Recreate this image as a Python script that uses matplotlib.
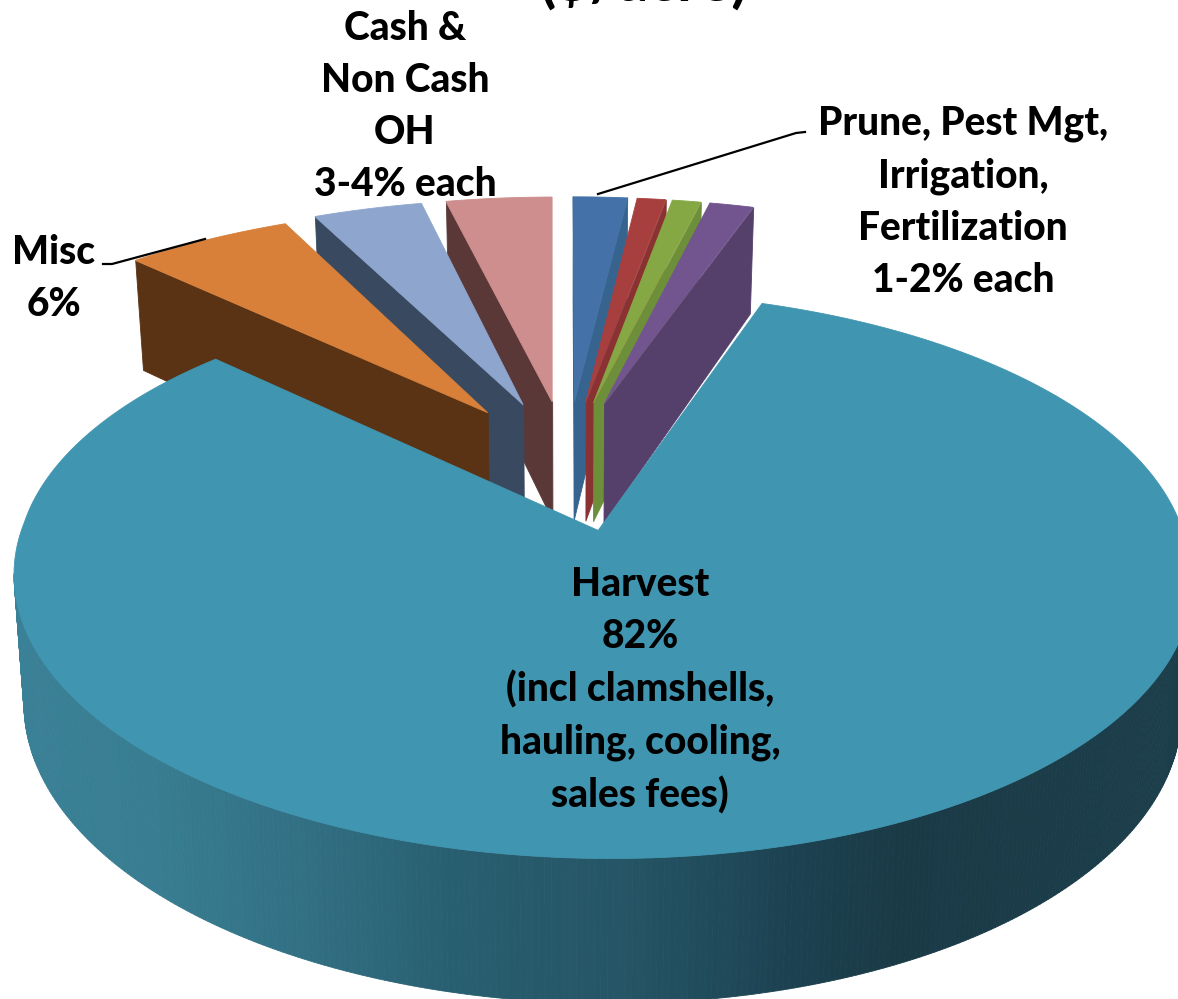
import numpy as np
import matplotlib
matplotlib.use('Agg')
import matplotlib.pyplot as plt
from matplotlib.collections import PolyCollection

# percent shares, clockwise from 12 o'clock
names = ['Prune', 'Pest Mgt', 'Irrigation', 'Fertilization', 'Harvest', 'Misc', 'Cash OH', 'Non Cash OH']
shares = [1.8, 0.95, 0.95, 1.7, 81.4, 6.0, 3.6, 3.6]

top_colors = ['#4472a8', '#a83f3f', '#86a844', '#72558f', '#4095b0', '#d8803a', '#8ea6ce', '#cd8e8d']
wall_colors = ['#37638f', '#8a3232', '#6e8f3a', '#553f6b', '#2f7086', '#5a3314', '#394a60', '#5a3838']
draw_order = [0, 1, 2, 3, 7, 6, 5, 4]

# harvest wall shading, screen x against rgb
shade_x = [15, 150, 300, 450, 620, 800, 900, 1178]
shade_r = [58, 56, 50, 40, 37, 28, 26, 28]
shade_g = [128, 125, 112, 95, 85, 65, 58, 62]
shade_b = [150, 145, 132, 112, 102, 80, 70, 75]

# fake 3d camera, tuned by eye against the picture
CX, CY = 567, 460
A, B, K = 551, 245, 0.19
EXPLODE = 0.25
HARVEST = 4
radius = [1.1, 1.1, 1.1, 1.1, 1.0, 1.09, 1.1, 1.1]
# degrees shaved off the drawn wedge, start side and end side
trim_start = [0, 0, 0, 0, 0, 2.0, 0, 0]
trim_end = [0, 0, 0, 0.9, 0, 0, 0, 0.3]


def project(x, y):
    w = 1 + K * y
    return CX + A * x / w, CY - B * y / w, w


def drop(sx, sy, w):
    # wall bottom is a bit shorter far away and leans inward
    return CX + (sx - CX) * 0.982, sy + 122 / w ** 0.64


def facing(p0, p1, c):
    ex, ey = p1[0] - p0[0], p1[1] - p0[1]
    side_c = ex * (c[1] - p0[1]) - ey * (c[0] - p0[0])
    return side_c * ex < 0


fig = plt.figure(figsize=(11.78, 9.99), dpi=100)
ax = fig.add_axes([0, 0, 1, 1])
ax.set_xlim(0, 1178)
ax.set_ylim(999, 0)
ax.axis('off')

edges = np.concatenate([[0], np.cumsum(shares)]) / sum(shares) * 360

for i in draw_order:
    a0, a1 = np.radians(edges[i]), np.radians(edges[i + 1])
    mid = (a0 + a1) / 2
    ox, oy = EXPLODE * np.sin(mid), EXPLODE * np.cos(mid)
    a0 += np.radians(trim_start[i])
    a1 -= np.radians(trim_end[i])
    ang = np.linspace(a0, a1, max(int(np.degrees(a1 - a0)), 4) * 2)
    r = radius[i] * np.ones(len(ang))
    ax0, ay0 = ox, oy
    if i == HARVEST:
        # far rim of the big slice sits a little further out, tip a little lower
        r = r * (1 + 0.03 * np.clip(np.cos(ang), 0, None))
        ax0, ay0 = ox - 0.007, oy - 0.03
    xs = np.concatenate([[ax0], ox + r * np.sin(ang)])
    ys = np.concatenate([[ay0], oy + r * np.cos(ang)])
    sx, sy, w = project(xs, ys)
    bx, by = drop(sx, sy, w)
    c = (sx.mean(), sy.mean())

    quads, cols = [], []
    n = len(sx)
    for j in range(n):
        k = (j + 1) % n
        if not facing((sx[j], sy[j]), (sx[k], sy[k]), c):
            continue
        quads.append([(sx[j], sy[j]), (sx[k], sy[k]), (bx[k], by[k]), (bx[j], by[j])])
        if i == HARVEST:
            m = (sx[j] + sx[k]) / 2
            cols.append((np.interp(m, shade_x, shade_r) / 255,
                         np.interp(m, shade_x, shade_g) / 255,
                         np.interp(m, shade_x, shade_b) / 255))
        else:
            cols.append(wall_colors[i])
    ax.add_collection(PolyCollection(quads, facecolors=cols, edgecolors=cols, linewidths=0.6))
    ax.fill(sx, sy, color=top_colors[i], lw=0.6)

ax.plot([805, 796, 598], [132, 133, 194], color='black', lw=1.6, zorder=5)
ax.plot([103, 112, 205], [264, 264, 239], color='black', lw=1.6, zorder=5)

font = dict(family='Lato', weight='black', color='black', ha='center', va='center',
            multialignment='center', fontsize=28, linespacing=1.5, zorder=6)
ax.text(405, 106, 'Cash &\nNon Cash\nOH\n3-4% each', **font)
ax.text(963, 202, 'Prune, Pest Mgt,\nIrrigation,\nFertilization\n1-2% each', **font)
ax.text(54, 279, 'Misc\n6%', **font)
ax.text(640, 690, 'Harvest\n82%\n(incl clamshells,\nhauling, cooling,\nsales fees)', **font)
ax.text(644, 1, '($/acre)', family='Lato', weight='bold', fontsize=43, ha='center', va='baseline', zorder=6)

fig.savefig('out.png', dpi=100)
